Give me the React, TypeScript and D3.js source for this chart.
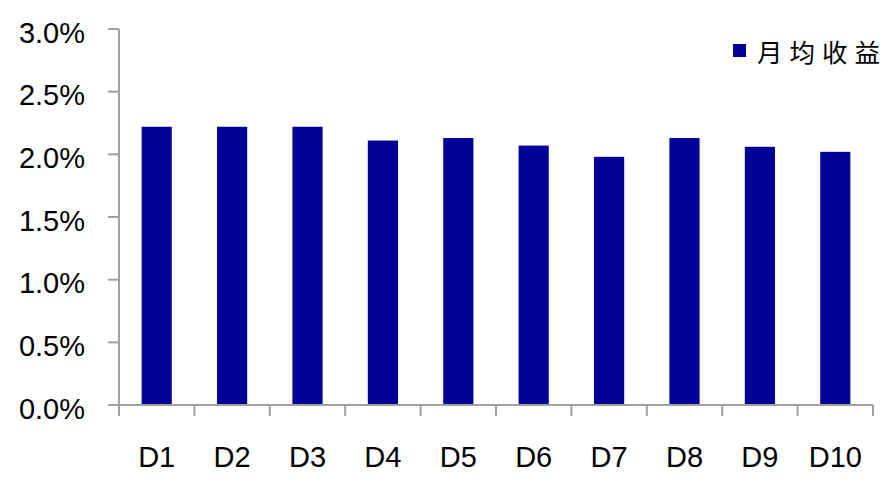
import React from "react";
import * as d3 from "d3";

const categories = ["D1", "D2", "D3", "D4", "D5", "D6", "D7", "D8", "D9", "D10"];
const monthlyReturn = [0.0222, 0.0222, 0.0222, 0.0211, 0.0213, 0.0207, 0.0198, 0.0213, 0.0206, 0.0202];
const yTicks = [0, 0.005, 0.01, 0.015, 0.02, 0.025, 0.03];
const legendLabel = "月均收益";

const W = 891;
const H = 477;
const left = 119;
const right = 873;
const top = 29;
const bottom = 405;
const barColor = "#000099";
const axisColor = "#a0a0a0";

export default function App() {
  const x = d3.scaleBand<string>().domain(categories).range([left, right]).paddingInner(0.6).paddingOuter(0.3);
  const y = d3.scaleLinear().domain([0, 0.03]).range([bottom, top]);
  const step = (right - left) / categories.length;
  const fmt = d3.format(".1%");

  return (
    <svg width={W} height={H} style={{ position: "absolute", left: 0, top: 0, background: "#fff" }}>
      {categories.map((c, i) => (
        <rect key={c} x={x(c)} y={y(monthlyReturn[i])} width={x.bandwidth()} height={y(0) - y(monthlyReturn[i])} fill={barColor} />
      ))}
      <line x1={left} x2={left} y1={y(0.03)} y2={bottom} stroke={axisColor} strokeWidth={2} />
      <line x1={left} x2={right} y1={bottom} y2={bottom} stroke={axisColor} strokeWidth={2} />
      {yTicks.map((t) => (
        <g key={t}>
          <line x1={108} x2={left} y1={y(t)} y2={y(t)} stroke={axisColor} strokeWidth={2} />
          <text x={85} y={y(t) + 13.5} textAnchor="end" fontFamily="'Liberation Sans', Arial, sans-serif" fontSize={29} fill="#000">
            {fmt(t)}
          </text>
        </g>
      ))}
      {d3.range(categories.length + 1).map((i) => (
        <line key={i} x1={left + i * step} x2={left + i * step} y1={bottom} y2={bottom + 11} stroke={axisColor} strokeWidth={2} />
      ))}
      {categories.map((c) => (
        <text key={c} x={(x(c) as number) + x.bandwidth() / 2} y={466.5} textAnchor="middle" fontFamily="'Liberation Sans', Arial, sans-serif" fontSize={29} fill="#000">
          {c}
        </text>
      ))}
      <rect x={733} y={44} width={13} height={13} fill={barColor} />
      <text x={757} y={62} fontFamily="'Noto Sans CJK SC', sans-serif" fontSize={25.5} letterSpacing={7} fill="#000">
        {legendLabel}
      </text>
    </svg>
  );
}
